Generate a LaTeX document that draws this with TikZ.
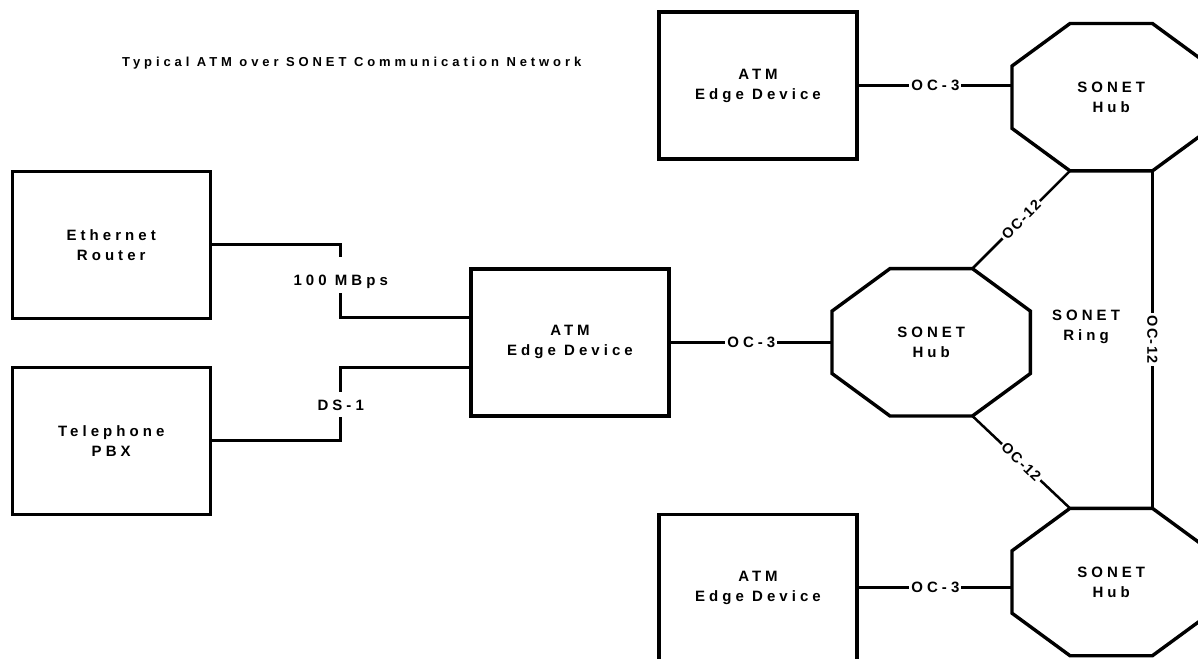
\documentclass[tikz,border=0pt]{standalone}
\usepackage{fontspec}
\setmainfont{Liberation Sans}
\newfontfamily\lbl[LetterSpace=27,UprightFont={* Bold}]{Liberation Sans}
\newfontfamily\lbltitle[LetterSpace=30,UprightFont={* Bold}]{Liberation Sans}
\newfontfamily\lbltight[LetterSpace=10,UprightFont={* Bold}]{Liberation Sans}
\usetikzlibrary{calc}
\newcommand\octohub[1]{%
  \coordinate (#1-tl) at ($(#1.north west)+(58,0)$);
  \coordinate (#1-tr) at ($(#1.north east)+(-58,0)$);
  \coordinate (#1-bl) at ($(#1.south west)+(58,0)$);
  \coordinate (#1-br) at ($(#1.south east)+(-58,0)$);
  \draw[shp] (#1-tl) -- (#1-tr) -- ($(#1.north east)+(0,42.5)$) -- ($(#1.south east)+(0,-42.5)$)
    -- (#1-br) -- (#1-bl) -- ($(#1.south west)+(0,-42.5)$) -- ($(#1.north west)+(0,42.5)$) -- cycle;}
\begin{document}
\begin{tikzpicture}[x=1pt,y=-1pt,
  txt/.style={font=\lbl\fontsize{15}{20}\selectfont},
  dev/.style={txt, draw, line width=3.4pt, rectangle, minimum width=198pt, minimum height=147pt, inner sep=0pt, align=center},
  hub/.style={txt, rectangle, minimum width=198pt, minimum height=147pt, inner sep=0pt, align=center},
  link/.style={line width=2.5pt},
  shp/.style={line width=3.4pt, line join=miter},
  lab/.style={txt, fill=white, inner xsep=2pt, inner ysep=1pt},
  labt/.style={font=\lbltight\fontsize{14.5}{15}\selectfont, fill=white, inner xsep=2pt, inner ysep=0pt}]
\useasboundingbox (0,0) rectangle (1198,658);
\clip (0,0) rectangle (1198,658);
\fill[white] (0,0) rectangle (1198,658);

\node[anchor=west, inner sep=0pt, font=\lbltitle\fontsize{13}{14}\selectfont] (title) at (122,63) {Typical ATM over SONET Communication Network};

\node[dev] (eth) at (111.2,244.7) {Ethernet\\Router};
\node[dev] (tel) at (111.2,440.7) {Telephone\\PBX};
\node[dev] (boxM) at (570,342.3) {ATM\\Edge Device};
\node[dev] (boxA) at (758,85.5) {ATM\\Edge Device};
\node[dev] (boxB) at (758,587.7) {ATM\\Edge Device};

\node[hub] (hubA) at (1111.2,97.2) {SONET\\Hub};
\node[hub] (hubM) at (931.2,342.3) {SONET\\Hub};
\node[hub] (hubC) at (1111.2,582) {SONET\\Hub};
\octohub{hubA}
\octohub{hubM}
\octohub{hubC}

\node[txt, align=center] (ring) at (1086,327) {SONET\\Ring};

\coordinate (k1) at (340.7,317.7);
\coordinate (k2) at (340.7,367.3);
\draw[link] (eth.east) -| (k1) -- (k1 -| boxM.west);
\draw[link] (tel.east) -| (k2) -- (k2 -| boxM.west);
\node[txt, anchor=base, fill=white, inner sep=0pt, text height=28.7pt, text depth=7.3pt] (l100) at (340.7,285.8) {100 MBps};
\node[txt, anchor=base, fill=white, inner sep=0pt, text height=18pt, text depth=6.3pt] (lds) at (340.7,410.2) {DS-1};

\draw[link] (boxA.east) -- node[lab] {OC-3} (boxA.east -| hubA.west);
\draw[link] (boxM.east) -- node[lab] {OC-3} (hubM.west);
\draw[link] (boxB.east) -- node[lab] {OC-3} (boxB.east -| hubC.west);

\draw[link] (hubA-bl) -- node[labt, rotate=45] {OC-12} (hubM-tr);
\draw[link] (hubM-br) -- node[labt, rotate=-44] {OC-12} (hubC-tl);
\draw[link, line width=3pt] (hubA-br) -- node[labt, rotate=-90] {OC-12} (hubC-tr);
\end{tikzpicture}
\end{document}
